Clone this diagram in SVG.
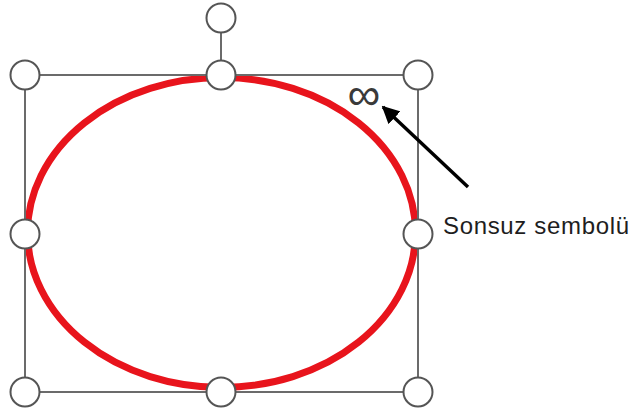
<svg xmlns="http://www.w3.org/2000/svg" width="631" height="414" viewBox="0 0 631 414">
<style>
.frame{fill:none;stroke:#6b6b6b;stroke-width:2}
.handle{fill:#ffffff;stroke:#555555;stroke-width:2}
.shape{fill:none;stroke:#e8141c;stroke-width:7}
.lbl{font-family:"Liberation Sans",Arial,sans-serif;fill:#1e1e1e}
</style>
<defs>
<marker id="ah" viewBox="0 0 10 10" refX="9" refY="5" markerWidth="5" markerHeight="5" orient="auto" markerUnits="strokeWidth">
<path d="M0,0 L10,5 L0,10 z" fill="#000000"/>
</marker>
</defs>
<rect width="631" height="414" fill="#ffffff"/>
<g id="ellipse">
<ellipse class="shape" cx="221.5" cy="232.5" rx="194" ry="155"/>
</g>
<g id="frame">
<rect class="frame" x="25" y="75" width="393" height="317"/>
<line class="frame" x1="221" y1="33" x2="221" y2="61"/>
</g>
<g id="handles">
<circle class="handle" cx="221" cy="18" r="14.5"/>
<circle class="handle" cx="25" cy="75" r="14.5"/>
<circle class="handle" cx="221" cy="75" r="14.5"/>
<circle class="handle" cx="418" cy="75" r="14.5"/>
<circle class="handle" cx="25" cy="234" r="14.5"/>
<circle class="handle" cx="418" cy="234" r="14.5"/>
<circle class="handle" cx="25" cy="392" r="14.5"/>
<circle class="handle" cx="221" cy="392" r="14.5"/>
<circle class="handle" cx="418" cy="392" r="14.5"/>
</g>
<g id="infinity">
<text x="364" y="110" font-family="Liberation Sans, Arial, sans-serif" font-size="46" text-anchor="middle" fill="#3a3a3a">∞</text>
</g>
<g id="connectors">
<line x1="468" y1="187" x2="383" y2="107" stroke="#000000" stroke-width="3.5" marker-end="url(#ah)"/>
</g>
<g id="label">
<text class="lbl" x="443" y="234" font-size="24" textLength="186" lengthAdjust="spacing">Sonsuz sembolü</text>
</g>
</svg>
